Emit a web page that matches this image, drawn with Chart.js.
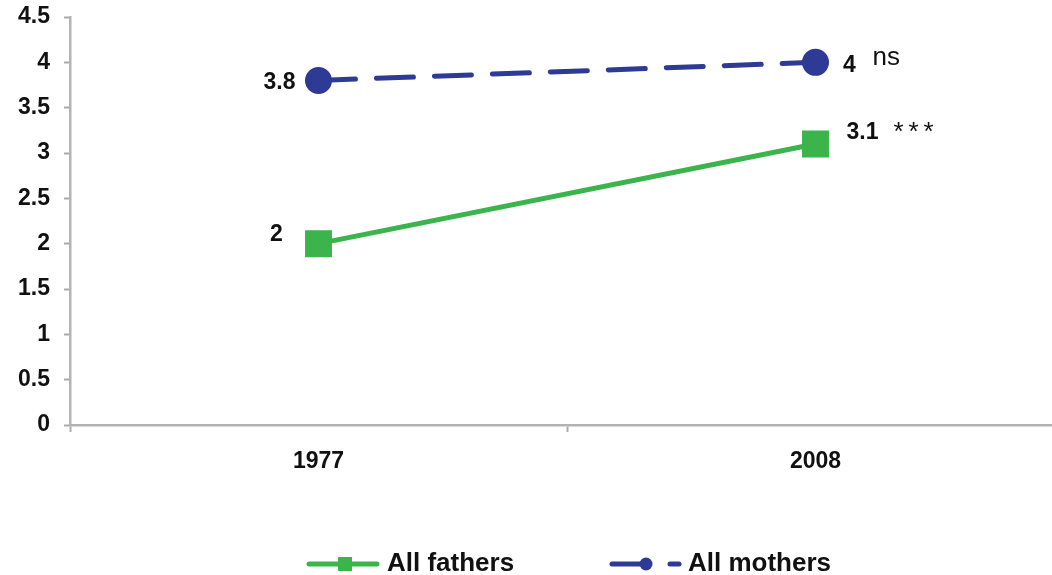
<!DOCTYPE html>
<html>
<head>
<meta charset="utf-8">
<script src="https://cdn.jsdelivr.net/npm/chart.js@4/dist/chart.umd.min.js"></script>
<style>
  html, body { margin: 0; padding: 0; background: #fff; overflow: hidden; }
  /* a bit wider than the window: the x axis runs off the right edge like the original */
  #wrap { width: 1064px; height: 575px; position: relative; }
  canvas { display: block; }
</style>
</head>
<body>
<div id="wrap"><canvas id="chart"></canvas></div>
<script>
const YEARS   = ["1977", "2008"];
const FATHERS = [2, 3.1];
const MOTHERS = [3.8, 4];
const SIGNIF  = { fathers: "***", mothers: "ns" };   // marks after the last value
const Y_TICKS = [0, 0.5, 1, 1.5, 2, 2.5, 3, 3.5, 4, 4.5];

const GREEN = "#3BB44B";
const BLUE  = "#2D3A96";
const FONT  = "'Liberation Sans', Arial, sans-serif";

/** Value labels + significance marks beside the points */
const pointLabels = {
  id: "pointLabels",
  afterDatasetsDraw(chart){
    const ctx = chart.ctx;
    ctx.save();
    ctx.textBaseline = "middle";
    ctx.textAlign = "center";
    ctx.fillStyle = "#111";
    ctx.font = `bold 23px ${FONT}`;
    // [dataset, index, dx, dy] relative to the point
    const spots = [
      [0, 0, -42, -9], [0, 1, 47, -11],
      [1, 0, -39, 2],  [1, 1, 34, 3]
    ];
    spots.forEach(([ds, i, dx, dy]) => {
      const pt = chart.getDatasetMeta(ds).data[i];
      const v = chart.data.datasets[ds].data[i];
      ctx.fillText(String(v), pt.x + dx, pt.y + dy);
    });

    ctx.font = `26px ${FONT}`;
    ctx.textAlign = "left";
    ctx.textBaseline = "alphabetic";
    const pm = chart.getDatasetMeta(1).data[1];
    ctx.fillText(SIGNIF.mothers, pm.x + 57, pm.y + 3);
    const pf = chart.getDatasetMeta(0).data[1];
    [...SIGNIF.fathers].forEach((c, k) => {
      ctx.fillText(c, pf.x + 78 + k * 15, pf.y - 4);
    });
    ctx.restore();
  }
};

/** Legend drawn like the original: line + marker + bold label */
const bottomLegend = {
  id: "bottomLegend",
  afterDraw(chart){
    const ctx = chart.ctx;
    const y = 564;
    ctx.save();
    ctx.lineWidth = 5;
    ctx.lineCap = "round";

    // All fathers
    ctx.strokeStyle = GREEN;
    ctx.beginPath(); ctx.moveTo(309, y); ctx.lineTo(377, y); ctx.stroke();
    ctx.fillStyle = GREEN;
    ctx.fillRect(338, y - 7, 14, 14);

    // All mothers
    ctx.strokeStyle = BLUE;
    ctx.beginPath(); ctx.moveTo(612, y); ctx.lineTo(648, y); ctx.stroke();
    ctx.beginPath(); ctx.moveTo(670, y); ctx.lineTo(679, y); ctx.stroke();
    ctx.fillStyle = BLUE;
    ctx.beginPath(); ctx.arc(646, y, 6.5, 0, Math.PI * 2); ctx.fill();

    ctx.font = `bold 26px ${FONT}`;
    ctx.fillStyle = "#111";
    ctx.textBaseline = "middle";
    ctx.textAlign = "left";
    ctx.fillText(chart.data.datasets[0].label, 387, y);
    ctx.fillText(chart.data.datasets[1].label, 688, y);
    ctx.restore();
  }
};

new Chart(document.getElementById("chart"), {
  type: "line",
  data: {
    labels: YEARS,
    datasets: [
      {
        label: "All fathers",
        data: FATHERS,
        borderColor: GREEN,
        backgroundColor: GREEN,
        borderWidth: 5,
        pointStyle: "rect",
        pointRadius: 15.5,
        pointHoverRadius: 15.5,
        tension: 0
      },
      {
        label: "All mothers",
        data: MOTHERS,
        borderColor: BLUE,
        backgroundColor: BLUE,
        borderWidth: 5,
        borderDash: [37, 21],
        borderCapStyle: "round",
        pointStyle: "circle",
        pointRadius: 11,
        pointHoverRadius: 11,
        tension: 0
      }
    ]
  },
  options: {
    responsive: true,
    maintainAspectRatio: false,
    animation: false,
    layout: { autoPadding: false, padding: { top: 17, right: 0, left: 0, bottom: 0 } },
    plugins: {
      legend: { display: false },
      tooltip: { enabled: false }
    },
    scales: {
      x: {
        offset: true,
        grid: {
          offset: true,
          drawOnChartArea: false,
          tickLength: 7,
          color: "#aaa",
          tickWidth: 2
        },
        border: { color: "#b3b3b3", width: 2.5 },
        ticks: {
          padding: 16,
          color: "#111",
          font: { family: FONT, size: 23, weight: "bold" }
        },
        afterFit(scale){ scale.height = 150; }
      },
      y: {
        min: 0,
        max: 4.5,
        afterBuildTicks(scale){ scale.ticks = Y_TICKS.map(v => ({ value: v })); },
        grid: {
          drawOnChartArea: false,
          tickLength: 6,
          color: "#aaa",
          tickWidth: 2
        },
        border: { color: "#b3b3b3", width: 2.5 },
        ticks: {
          padding: 14,
          color: "#111",
          font: { family: FONT, size: 23, weight: "bold" },
          callback: v => String(v)
        },
        afterFit(scale){
          scale.width = 70;
          scale.paddingTop = 0;
          scale.paddingBottom = 0;
        }
      }
    }
  },
  plugins: [pointLabels, bottomLegend]
});
</script>
</body>
</html>
